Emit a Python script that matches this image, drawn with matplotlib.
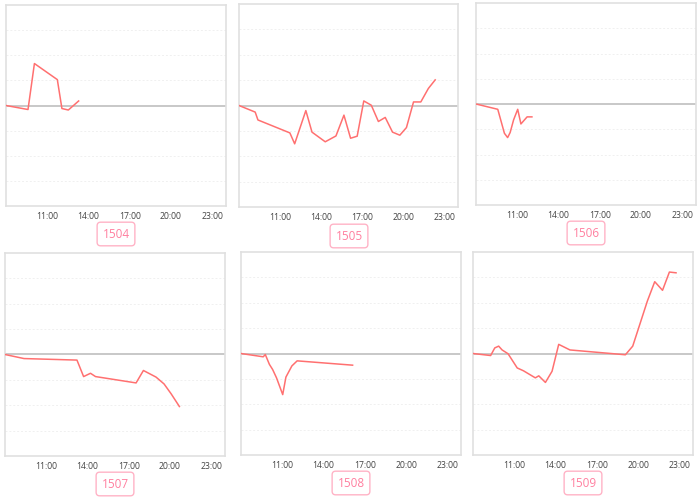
import matplotlib
matplotlib.use("Agg")
import matplotlib.pyplot as plt

plt.rcParams['font.family'] = ['Open Sans', 'DejaVu Sans']

codes = ["1504", "1505", "1506", "1507", "1508", "1509"]

times_1504 = ["08:00", "09:36", "10:04", "11:44", "12:04", "12:32", "13:17"]
values_1504 = [0, -0.16, 1.67, 1.03, -0.12, -0.18, 0.18]

times_1505 = ["08:00", "09:11", "09:23", "11:43", "12:04", "12:53", "13:20", "14:18",
              "15:05", "15:40", "16:09", "16:38", "17:07", "17:40", "18:11", "18:41",
              "19:13", "19:45", "20:14", "20:45", "21:17", "21:50", "22:20"]
values_1505 = [0, -0.26, -0.57, -1.08, -1.51, -0.20, -1.05, -1.43,
               -1.20, -0.38, -1.29, -1.21, 0.18, 0.01, -0.63, -0.47,
               -1.05, -1.17, -0.87, 0.14, 0.14, 0.67, 1.01]

times_1506 = ["08:00", "09:35", "10:04", "10:18", "10:29", "10:44", "11:02", "11:16", "11:43", "12:04"]
values_1506 = [0, -0.21, -1.16, -1.33, -1.13, -0.63, -0.21, -0.79, -0.51, -0.51]

times_1507 = ["08:00", "09:23", "13:14", "13:43", "14:13", "14:35", "17:32", "18:04",
              "18:59", "19:34", "20:05", "20:41"]
values_1507 = [0, -0.16, -0.22, -0.87, -0.74, -0.87, -1.12, -0.63, -0.89, -1.16, -1.55, -2.05]

times_1508 = ["08:00", "09:37", "09:46", "10:04", "10:18", "10:35", "11:02", "11:16",
              "11:42", "12:05", "16:07"]
values_1508 = [0, -0.13, -0.04, -0.43, -0.63, -0.96, -1.62, -0.93, -0.49, -0.29, -0.46]

times_1509 = ["08:00", "09:17", "09:35", "09:52", "10:07", "10:33", "11:13", "11:40",
              "12:32", "12:47", "13:16", "13:45", "14:14", "15:03", "19:05", "19:37",
              "20:41", "21:13", "21:47", "22:17", "22:46"]
values_1509 = [0, -0.08, 0.22, 0.29, 0.14, -0.01, -0.57, -0.68,
               -0.96, -0.88, -1.14, -0.70, 0.36, 0.14, -0.05, 0.29,
               2.07, 2.83, 2.49, 3.21, 3.18]

tick_hours = [11, 14, 17, 20, 23]
tick_labels = ["11:00", "14:00", "17:00", "20:00", "23:00"]

series = [(times_1504, values_1504), (times_1505, values_1505), (times_1506, values_1506),
          (times_1507, values_1507), (times_1508, values_1508), (times_1509, values_1509)]


def to_hours(t):
    h, m = t.split(":")
    return int(h) + int(m) / 60


W, H = 700, 498
# panel boxes in pixels: left, top, right, bottom
boxes = [(6, 5, 226, 206), (239, 4, 458, 207), (476, 3, 696, 205),
         (5, 253, 225, 456), (241, 252, 461, 455), (473, 252, 693, 455)]
label_pos = [(116, 234), (349, 236), (586, 233), (115, 484), (351, 483), (583, 483)]

fig = plt.figure(figsize=(W / 100, H / 100), dpi=100)

for i, (times, vals) in enumerate(series):
    l, t, r, b = boxes[i]
    ax = fig.add_axes([l / W, 1 - b / H, (r - l) / W, (b - t) / H])
    x = [to_hours(s) for s in times]
    for g in [-3, -2, -1, 1, 2, 3]:
        ax.axhline(g, color="#f0f0f0", lw=0.7, ls=(0, (2, 2)), zorder=1)
    ax.axhline(0, color="#c4c4c4", lw=1.3, zorder=2)
    ax.plot(x, vals, color="#ff7070", lw=1.1, zorder=3)
    ax.set_xlim(8, 24)
    ax.set_ylim(-4, 4)
    ax.set_yticks([])
    ax.set_xticks(tick_hours)
    ax.set_xticklabels(tick_labels, fontsize=6.2, color="#444444")
    ax.tick_params(axis="x", length=0, pad=4)
    for sp in ax.spines.values():
        sp.set_color("#e0e0e0")
        sp.set_linewidth(1.2)

    lx, ly = label_pos[i]
    fig.text(lx / W, 1 - ly / H, codes[i], ha="center", va="center", fontsize=8.5,
             color="#ff7f9f",
             bbox=dict(boxstyle="round,pad=0.45,rounding_size=0.3", fc="white",
                       ec="#ffb3c6", lw=1.0))

fig.savefig("out.png", dpi=100)
